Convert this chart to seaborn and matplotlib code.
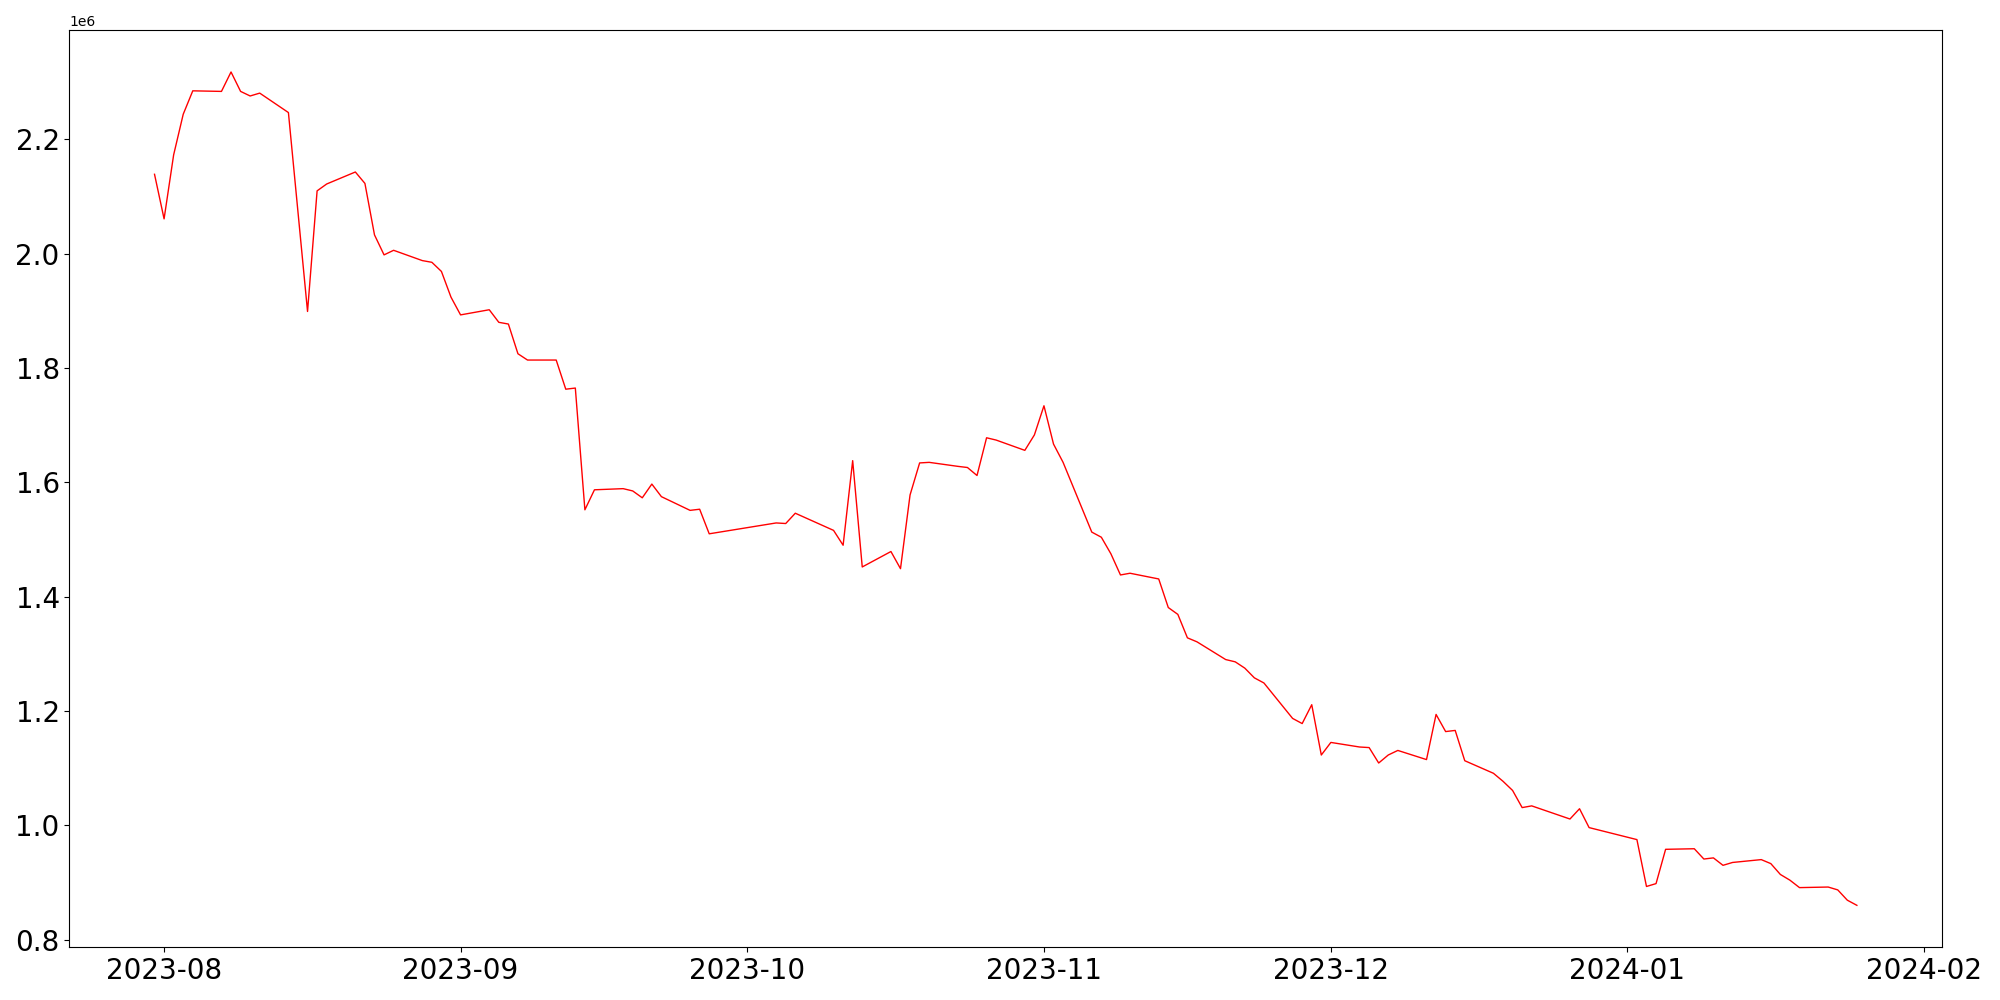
import matplotlib
matplotlib.use("Agg")
import matplotlib.pyplot as plt
import pandas as pd
import seaborn as sns

# daily values (missing days simply absent)
dates = [
    "2023-07-31", "2023-08-01", "2023-08-02", "2023-08-03", "2023-08-04",
    "2023-08-07", "2023-08-08", "2023-08-09", "2023-08-10", "2023-08-11",
    "2023-08-14", "2023-08-16", "2023-08-17", "2023-08-18",
    "2023-08-21", "2023-08-22", "2023-08-23", "2023-08-24", "2023-08-25",
    "2023-08-28", "2023-08-29", "2023-08-30", "2023-08-31", "2023-09-01",
    "2023-09-04", "2023-09-05", "2023-09-06", "2023-09-07", "2023-09-08",
    "2023-09-11", "2023-09-12", "2023-09-13", "2023-09-14", "2023-09-15",
    "2023-09-18", "2023-09-19", "2023-09-20", "2023-09-21", "2023-09-22",
    "2023-09-25", "2023-09-26", "2023-09-27",
    "2023-10-04", "2023-10-05", "2023-10-06",
    "2023-10-10", "2023-10-11", "2023-10-12", "2023-10-13",
    "2023-10-16", "2023-10-17", "2023-10-18", "2023-10-19", "2023-10-20",
    "2023-10-23", "2023-10-24", "2023-10-25", "2023-10-26", "2023-10-27",
    "2023-10-30", "2023-10-31", "2023-11-01", "2023-11-02", "2023-11-03",
    "2023-11-06", "2023-11-07", "2023-11-08", "2023-11-09", "2023-11-10",
    "2023-11-13", "2023-11-14", "2023-11-15", "2023-11-16", "2023-11-17",
    "2023-11-20", "2023-11-21", "2023-11-22", "2023-11-23", "2023-11-24",
    "2023-11-27", "2023-11-28", "2023-11-29", "2023-11-30", "2023-12-01",
    "2023-12-04", "2023-12-05", "2023-12-06", "2023-12-07", "2023-12-08",
    "2023-12-11", "2023-12-12", "2023-12-13", "2023-12-14", "2023-12-15",
    "2023-12-18", "2023-12-19", "2023-12-20", "2023-12-21", "2023-12-22",
    "2023-12-26", "2023-12-27", "2023-12-28",
    "2024-01-02", "2024-01-03", "2024-01-04", "2024-01-05",
    "2024-01-08", "2024-01-09", "2024-01-10", "2024-01-11", "2024-01-12",
    "2024-01-15", "2024-01-16", "2024-01-17", "2024-01-18", "2024-01-19",
    "2024-01-22", "2024-01-23", "2024-01-24", "2024-01-25",
]

values = [
    2.139e6, 2.061e6, 2.173e6, 2.244e6, 2.285e6,
    2.284e6, 2.318e6, 2.284e6, 2.276e6, 2.281e6,
    2.247e6, 1.899e6, 2.110e6, 2.122e6,
    2.143e6, 2.123e6, 2.033e6, 1.998e6, 2.006e6,
    1.988e6, 1.985e6, 1.969e6, 1.924e6, 1.893e6,
    1.902e6, 1.880e6, 1.877e6, 1.825e6, 1.814e6,
    1.814e6, 1.763e6, 1.765e6, 1.552e6, 1.587e6,
    1.589e6, 1.585e6, 1.573e6, 1.597e6, 1.575e6,
    1.551e6, 1.553e6, 1.510e6,
    1.529e6, 1.528e6, 1.546e6,
    1.516e6, 1.490e6, 1.638e6, 1.452e6,
    1.479e6, 1.449e6, 1.578e6, 1.634e6, 1.635e6,
    1.628e6, 1.626e6, 1.612e6, 1.678e6, 1.674e6,
    1.656e6, 1.683e6, 1.734e6, 1.667e6, 1.635e6,
    1.513e6, 1.504e6, 1.475e6, 1.438e6, 1.441e6,
    1.431e6, 1.381e6, 1.369e6, 1.328e6, 1.321e6,
    1.290e6, 1.286e6, 1.275e6, 1.258e6, 1.249e6,
    1.187e6, 1.178e6, 1.211e6, 1.123e6, 1.145e6,
    1.137e6, 1.136e6, 1.109e6, 1.123e6, 1.131e6,
    1.115e6, 1.194e6, 1.164e6, 1.166e6, 1.113e6,
    1.091e6, 1.077e6, 1.061e6, 1.031e6, 1.034e6,
    1.011e6, 1.029e6, 0.996e6,
    0.975e6, 0.893e6, 0.898e6, 0.958e6,
    0.959e6, 0.941e6, 0.943e6, 0.930e6, 0.935e6,
    0.940e6, 0.933e6, 0.914e6, 0.904e6, 0.891e6,
    0.892e6, 0.887e6, 0.869e6, 0.860e6,
]

df = pd.DataFrame({"date": pd.to_datetime(dates), "value": values})

fig, ax = plt.subplots(figsize=(20, 10), dpi=100)
sns.lineplot(data=df, x="date", y="value", color="red", linewidth=1, ax=ax)
ax.set_xlabel("")
ax.set_ylabel("")
ax.tick_params(axis="both", labelsize=20)
plt.subplots_adjust(left=0.0347, right=0.971, top=0.9697, bottom=0.053)
fig.savefig("out.png")
